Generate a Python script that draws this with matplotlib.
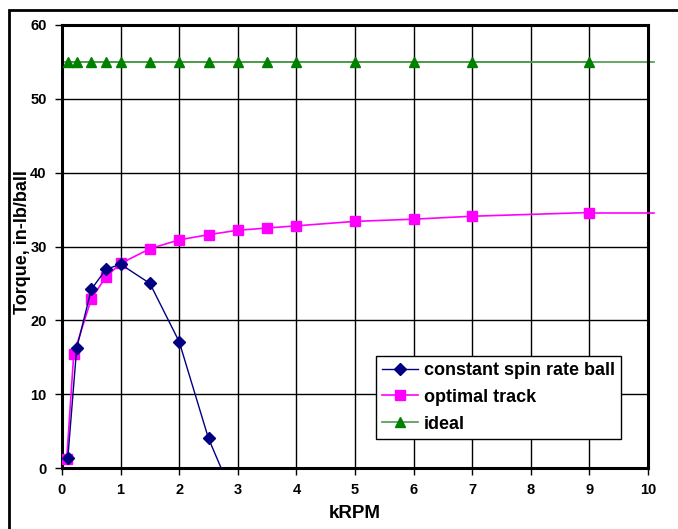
import matplotlib
matplotlib.use('Agg')
import matplotlib.pyplot as plt
from matplotlib.patches import Rectangle

plt.rcParams['font.family'] = ['Liberation Sans', 'DejaVu Sans']
plt.rcParams['font.weight'] = 'bold'

# constant spin rate ball
spin_x = [0.1, 0.25, 0.5, 0.75, 1.0, 1.5, 2.0, 2.5, 3.0]
spin_y = [1.4, 16.2, 24.2, 26.9, 27.6, 25.0, 17.1, 4.0, -5.3]

# optimal track
track_x = [0.08, 0.2, 0.5, 0.75, 1.0, 1.5, 2.0, 2.5, 3.0, 3.5, 4.0, 5.0, 6.0, 7.0, 9.0]
track_y = [1.2, 15.4, 22.9, 25.9, 27.7, 29.7, 30.9, 31.6, 32.2, 32.5, 32.8, 33.4, 33.7, 34.1, 34.6]
track_end = 34.6

# ideal
ideal_x = [0.1, 0.25, 0.5, 0.75, 1.0, 1.5, 2.0, 2.5, 3.0, 3.5, 4.0, 5.0, 6.0, 7.0, 9.0]
ideal_y = [55] * len(ideal_x)

fig = plt.figure(figsize=(6.78, 5.29), dpi=100)
ax = fig.add_axes([62/678, 1 - 468/529, 586/678, 443/529])

# outer frame
fig.patches.append(Rectangle((9/678, -0.2), 1.0, 1.2 - 10/529, transform=fig.transFigure,
                             fill=False, edgecolor='black', linewidth=2, clip_on=False))

ax.plot(spin_x, spin_y, color='#000080', marker='D', markersize=6, linewidth=1,
        label='constant spin rate ball', zorder=4)
ax.plot(track_x, track_y, color='#FF00FF', marker='s', markersize=6.5, linewidth=1.2,
        label='optimal track', zorder=3)
ax.plot([track_x[-1], 10.1], [track_y[-1], track_end], color='#FF00FF', linewidth=1.2,
        clip_on=False, zorder=3)
ax.plot([0, 10.1], [ideal_y[0], ideal_y[0]], color='#4a9a4a', linewidth=1.2,
        clip_on=False, zorder=2)
ax.plot(ideal_x, ideal_y, color='#4a9a4a', linewidth=1.2, marker='^',
        markerfacecolor='#008000', markeredgecolor='#008000', markersize=7.5,
        label='ideal', zorder=3)

ax.set_xlim(0, 10)
ax.set_ylim(0, 60)
ax.set_xticks(range(0, 11))
ax.set_yticks(range(0, 61, 10))
ax.grid(True, color='black', linewidth=1)
ax.set_axisbelow(True)
for s in ax.spines.values():
    s.set_linewidth(2.2)
ax.tick_params(direction='out', length=5, width=1, labelsize=10.5, pad=6)

ax.set_xlabel('kRPM', fontsize=13.5, fontweight='bold')
ax.set_ylabel('Torque, in-lb/ball', fontsize=13, fontweight='bold')
ax.xaxis.set_label_coords(0.5, (468 - 505) / 443)
ax.yaxis.set_label_coords((31 - 62) / 586, (468 - 242) / 443)

leg = ax.legend(loc='lower right', bbox_to_anchor=((621 - 62) / 586, (468 - 439) / 443),
                fontsize=13, fancybox=False, framealpha=1, edgecolor='black',
                handlelength=2.0, handletextpad=0.3, borderpad=0.35, labelspacing=0.55,
                borderaxespad=0)
leg.get_frame().set_linewidth(1)
leg.set_zorder(10)

fig.savefig('out.png', dpi=100)
